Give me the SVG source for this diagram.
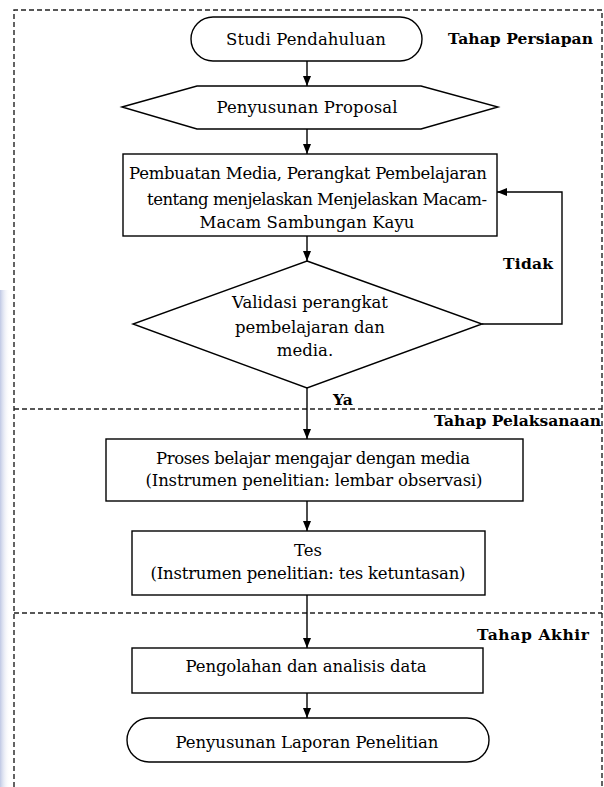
<svg xmlns="http://www.w3.org/2000/svg" width="604" height="787" viewBox="0 0 604 787">
<style>
.box{fill:#fff;stroke:#000;stroke-width:1.4}
.dash{fill:none;stroke:#222;stroke-width:1.4;stroke-dasharray:5,3}
.ln{fill:none;stroke:#000;stroke-width:1.4}
.t{font-family:"DejaVu Serif","Liberation Serif",serif;font-size:16.5px;fill:#000;text-anchor:middle}
.b{font-family:"DejaVu Serif","Liberation Serif",serif;font-size:15.5px;font-weight:bold;fill:#000}
</style>
<defs>
<marker id="arr" markerUnits="userSpaceOnUse" markerWidth="10" markerHeight="10" refX="10" refY="5" orient="auto">
<path d="M0,1 L10,5 L0,9 Z" fill="#000"/>
</marker>
<linearGradient id="strip" x1="0" y1="0" x2="1" y2="0">
<stop offset="0" stop-color="#bfc8e4"/>
<stop offset="1" stop-color="#ffffff" stop-opacity="0"/>
</linearGradient>
</defs>
<rect x="0" y="0" width="604" height="787" fill="#fff"/>
<rect x="0" y="290" width="10" height="497" fill="url(#strip)"/>
<g id="frame">
<path class="dash" d="M14,787 V10 H602 V787"/>
<path class="dash" d="M14,409 H602"/>
<path class="dash" d="M14,613 H602"/>
</g>
<g id="labels">
<text class="b" x="448" y="44" textLength="145">Tahap Persiapan</text>
<text class="b" x="434" y="426" textLength="167">Tahap Pelaksanaan</text>
<text class="b" x="477" y="640" textLength="112">Tahap Akhir</text>
</g>
<g id="connectors">
<path class="ln" d="M307,61 V86" marker-end="url(#arr)"/>
<path class="ln" d="M307,129 V154" marker-end="url(#arr)"/>
<path class="ln" d="M307,236 V261" marker-end="url(#arr)"/>
<path class="ln" d="M482,324 H562 V192 H497" marker-end="url(#arr)"/>
<path class="ln" d="M307,388 V439" marker-end="url(#arr)"/>
<path class="ln" d="M307,501 V531" marker-end="url(#arr)"/>
<path class="ln" d="M307,595 V648" marker-end="url(#arr)"/>
<path class="ln" d="M307,693 V718" marker-end="url(#arr)"/>
<text class="b" x="503" y="269" textLength="50">Tidak</text>
<text class="b" x="333" y="405">Ya</text>
</g>
<g id="studi">
<rect class="box" x="191" y="17" width="231" height="44" rx="22" ry="22"/>
<text class="t" x="306" y="45" textLength="160">Studi Pendahuluan</text>
</g>
<g id="proposal">
<polygon class="box" points="122,107 197,86 421,86 498,107 421,129 197,129"/>
<text class="t" x="307" y="113" textLength="181">Penyusunan Proposal</text>
</g>
<g id="pembuatan">
<rect class="box" x="123" y="154" width="374" height="82"/>
<text class="t" x="308" y="179" textLength="358">Pembuatan Media, Perangkat Pembelajaran</text>
<text class="t" x="317" y="205" textLength="340">tentang menjelaskan Menjelaskan Macam-</text>
<text class="t" x="307" y="228" textLength="215">Macam Sambungan Kayu</text>
</g>
<g id="validasi">
<polygon class="box" points="307,261 482,324 307,388 133,324"/>
<text class="t" x="310" y="308" textLength="156">Validasi perangkat</text>
<text class="t" x="310" y="333" textLength="150">pembelajaran dan</text>
<text class="t" x="305" y="356">media.</text>
</g>
<g id="proses">
<rect class="box" x="106" y="439" width="417" height="62"/>
<text class="t" x="313" y="464" textLength="314">Proses belajar mengajar dengan media</text>
<text class="t" x="314" y="486" textLength="337">(Instrumen penelitian: lembar observasi)</text>
</g>
<g id="tes">
<rect class="box" x="132" y="531" width="353" height="64"/>
<text class="t" x="308" y="556">Tes</text>
<text class="t" x="308" y="579" textLength="315">(Instrumen penelitian: tes ketuntasan)</text>
</g>
<g id="pengolahan">
<rect class="box" x="132" y="648" width="351" height="45"/>
<text class="t" x="306" y="672" textLength="241">Pengolahan dan analisis data</text>
</g>
<g id="laporan">
<rect class="box" x="127" y="718" width="362" height="44" rx="22" ry="22"/>
<text class="t" x="307" y="748" textLength="263">Penyusunan Laporan Penelitian</text>
</g>
</svg>
